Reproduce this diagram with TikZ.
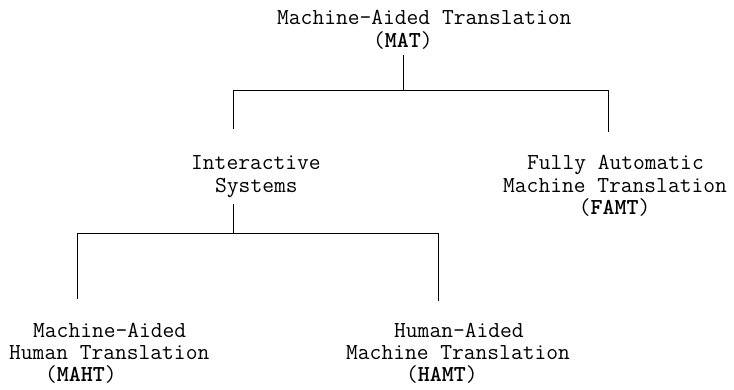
\documentclass[tikz,border=0pt]{standalone}
\usepackage{fontspec}
% one character cell of the typewriter face (0.525em at 22.857pt)
\newlength\chw
\setlength\chw{12pt}
% a line of text, indented by a number of character cells
\newcommand\tline[2]{\hbox{\hspace*{#1\chw}#2}}
% stacked lines whose reference point is the first baseline
\newcommand\tblock[1]{\vtop{\baselineskip=22.5pt\lineskiplimit=-20pt #1}}
\begin{document}
\begin{tikzpicture}[x=1pt,y=-1pt,
  txt/.style={anchor=base west, inner sep=0pt, font=\ttfamily\fontsize{22.857}{22.5}\selectfont},
  branch/.style={line width=0.9pt, black, line join=miter}]
\useasboundingbox (0,0) rectangle (734,390);

% text blocks
\node[txt] (mat) at (277,25)
  {\tblock{\tline{0}{Machine-Aided Translation}\tline{8}{(\textbf{MAT})}}};
\node[txt] (inter) at (191,170)
  {\tblock{\tline{0}{Interactive}\tline{2}{Systems}}};
\node[txt] (famt) at (503,170)
  {\tblock{\tline{2}{Fully Automatic}\tline{0}{Machine Translation}\tline{6.3}{(\textbf{FAMT})}}};
\node[txt] (maht) at (9,337)
  {\tblock{\tline{2}{Machine-Aided}\tline{0}{Human Translation}\tline{3}{(\textbf{MAHT})}}};
\node[txt] (hamt) at (346,337)
  {\tblock{\tline{4}{Human-Aided}\tline{0}{Machine Translation}\tline{5}{(\textbf{HAMT})}}};

% junctions of the tree
\coordinate (j1)  at (403,90);
\coordinate (j1l) at (233,90);
\coordinate (j1r) at (608,90);
\coordinate (j2)  at (233,233.5);
\coordinate (j2l) at (77,233.5);
\coordinate (j2r) at (438,233.5);

% first level
\draw[branch] ([yshift=-5pt]mat.south -| j1) -- (j1);
\draw[branch] ([yshift=27pt]inter.north -| j1l) -- (j1l) -- (j1r)
  -- ([yshift=24pt]famt.north -| j1r);

% second level
\draw[branch] ([yshift=-6pt]inter.south -| j2) -- (j2);
\draw[branch] ([yshift=24pt]maht.north -| j2l) -- (j2l) -- (j2r)
  -- ([yshift=22pt]hamt.north -| j2r);
\end{tikzpicture}
\end{document}
